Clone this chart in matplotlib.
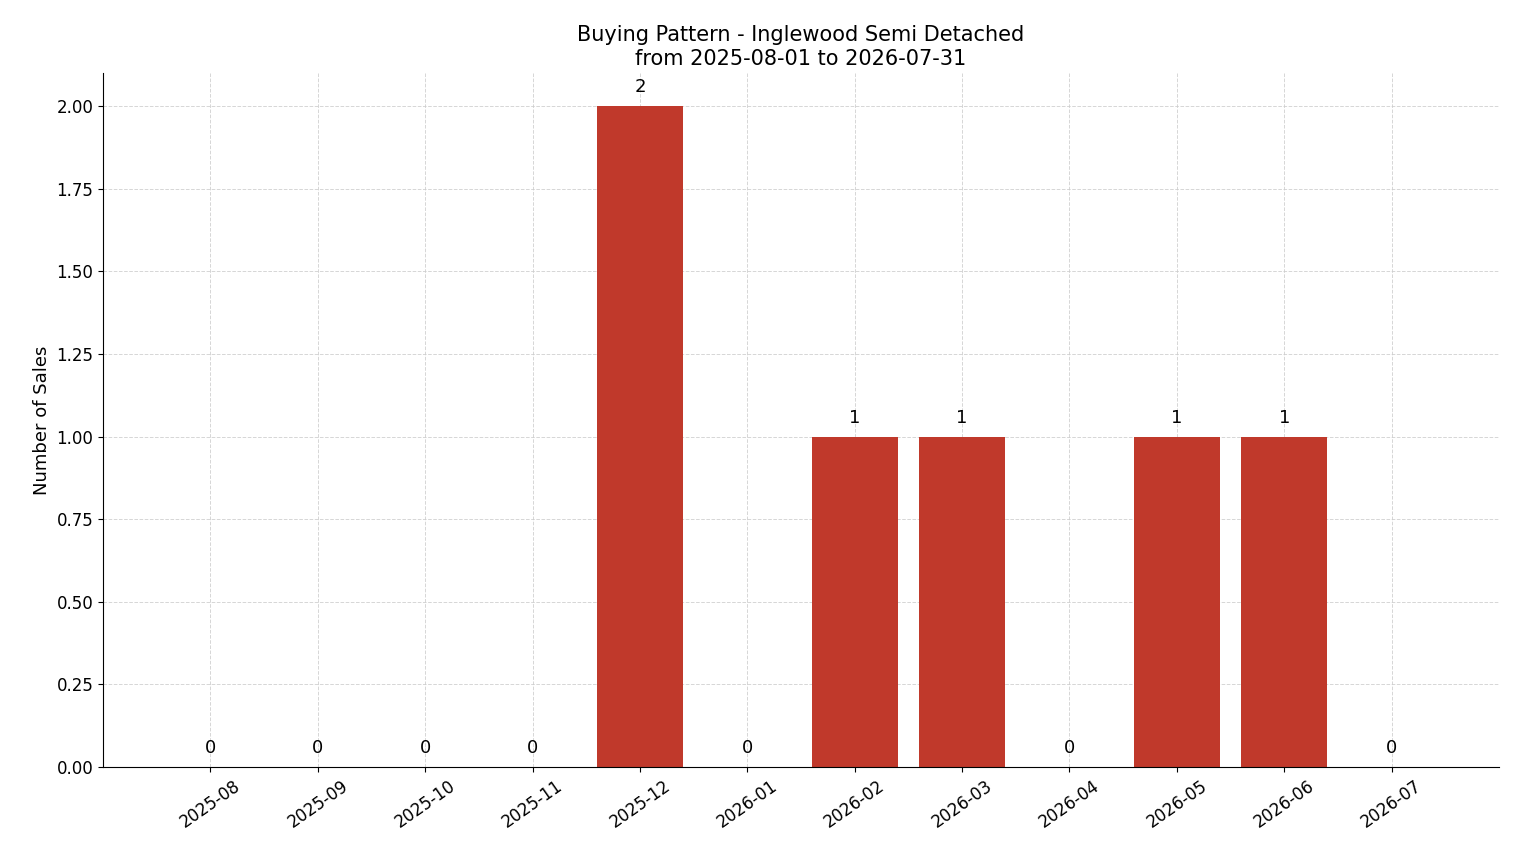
import matplotlib
matplotlib.use("Agg")
import matplotlib.pyplot as plt

months = ["2025-08","2025-09","2025-10","2025-11","2025-12","2026-01",
          "2026-02","2026-03","2026-04","2026-05","2026-06","2026-07"]
sales = [0,0,0,0,2,0,1,1,0,1,1,0]

fig = plt.figure(figsize=(15.14, 8.63), dpi=100)
ax = fig.add_axes([103/1514, 1-767/863, (1499-103)/1514, (767-73)/863])
x = list(range(len(months)))
bars = ax.bar(x, sales, width=0.8, color="#c0392b", zorder=2)
for xi, v in zip(x, sales):
    ax.text(xi, v + 0.03, str(v), ha="center", va="bottom", fontsize=13)
ax.set_xticks(x)
ax.set_xticklabels(months, rotation=35, fontsize=12)
ax.tick_params(axis="y", labelsize=12)
ax.set_xlim(-1, 12)
ax.set_ylim(0, 2.1)
ax.set_yticks([0, 0.25, 0.5, 0.75, 1.0, 1.25, 1.5, 1.75, 2.0])
ax.yaxis.set_major_formatter(matplotlib.ticker.FormatStrFormatter("%.2f"))
ax.grid(True, linestyle="--", color="#cccccc", alpha=0.8, linewidth=0.7, zorder=0)
ax.set_axisbelow(True)
ax.spines["top"].set_visible(False)
ax.spines["right"].set_visible(False)
ax.set_ylabel("Number of Sales", fontsize=13)
ax.set_title("Buying Pattern - Inglewood Semi Detached\nfrom 2025-08-01 to 2026-07-31", fontsize=15)
fig.savefig("out.png", dpi=100)
